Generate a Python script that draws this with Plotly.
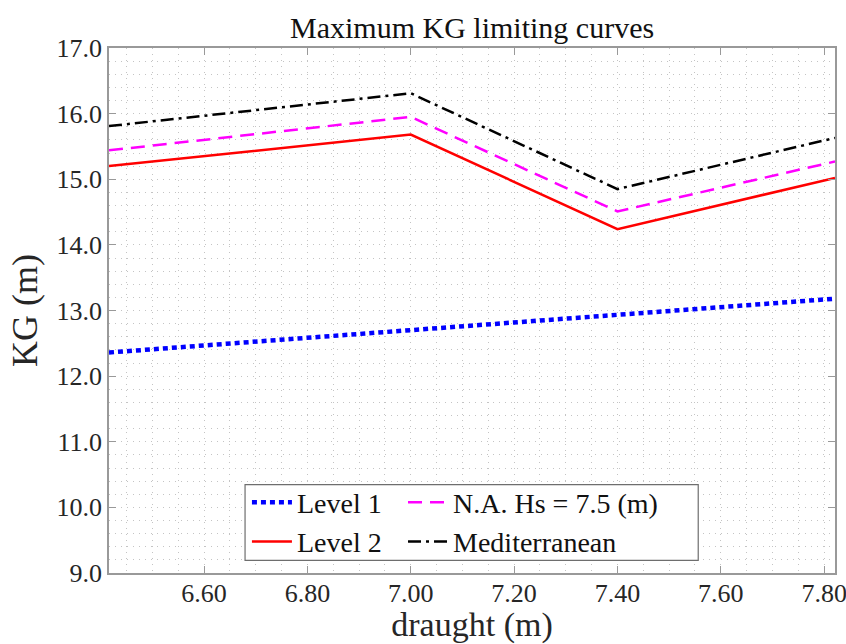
import plotly.graph_objects as go

draught = [6.416, 7.00, 7.40, 7.821]
level1 = [12.36, 12.70, 12.93, 13.18]
level2 = [15.20, 15.68, 14.24, 15.02]
na_hs75 = [15.44, 15.95, 14.51, 15.27]
mediterranean = [15.81, 16.31, 14.85, 15.63]

x_ticks = [6.6, 6.8, 7.0, 7.2, 7.4, 7.6, 7.8]
y_ticks = [9, 10, 11, 12, 13, 14, 15, 16, 17]

FONT = "Liberation Serif"

fig = go.Figure()
fig.add_trace(go.Scatter(x=draught, y=level1, mode="lines", name="Level 1",
                         line=dict(color="#0000ff", width=4.5, dash="5px,4px"), legend="legend"))
fig.add_trace(go.Scatter(x=draught, y=level2, mode="lines", name="Level 2",
                         line=dict(color="#ff0000", width=2.5), legend="legend"))
fig.add_trace(go.Scatter(x=draught, y=na_hs75, mode="lines", name="N.A. Hs = 7.5 (m)",
                         line=dict(color="#ff00ff", width=2.5, dash="14px,8px"), legend="legend2"))
fig.add_trace(go.Scatter(x=draught, y=mediterranean, mode="lines", name="Mediterranean",
                         line=dict(color="#000000", width=2.5, dash="13px,5px,3px,5px"), legend="legend2"))

grid = "#c4c4c4"
axis_common = dict(
    showline=True, linecolor="#999999", linewidth=1.6, mirror="ticks",
    ticks="inside", ticklen=7, tickcolor="#999999", tickwidth=1.2,
    showgrid=True, gridcolor=grid, griddash="1px,5px", gridwidth=1,
    zeroline=False, automargin=False, ticklabeloverflow="allow",
    tickfont=dict(family=FONT, size=26, color="#262626"),
)

fig.update_xaxes(range=[6.416, 7.821], tickvals=x_ticks, tickformat=".2f",
                 ticklabelstandoff=-4,
                 minor=dict(dtick=0.05, tick0=6.6, showgrid=True, gridcolor=grid,
                            griddash="1px,5px", ticks=""),
                 title=dict(text="draught (m)", font=dict(family=FONT, size=34, color="#262626"), standoff=6),
                 **axis_common)
fig.update_yaxes(range=[9, 17], tickvals=y_ticks, tickformat=".1f",
                 minor=dict(dtick=0.2, tick0=9, showgrid=True, gridcolor=grid,
                            griddash="1px,5px", ticks=""),
                 title=dict(text="KG (m)", font=dict(family=FONT, size=36, color="#262626"), standoff=8),
                 **axis_common)

x0, x1, y0, y1 = 0.1874, 0.8116, 0.0242, 0.1684
fig.add_shape(type="rect", xref="paper", yref="paper", x0=x0, x1=x1, y0=y0, y1=y1,
              fillcolor="white", line=dict(color="#6e6e6e", width=1.2), layer="above")

legend_common = dict(bgcolor="rgba(0,0,0,0)", borderwidth=0, yanchor="top", xanchor="left",
                     font=dict(family=FONT, size=28, color="#111"), tracegroupgap=0,
                     itemwidth=40)
fig.update_layout(
    width=846, height=644,
    margin=dict(l=109, r=11, t=48, b=71),
    plot_bgcolor="white", paper_bgcolor="white",
    title=dict(text="Maximum KG limiting curves", x=0.558, xanchor="center",
               yref="container", y=0.957, yanchor="middle",
               font=dict(family=FONT, size=30, color="#111")),
    legend=dict(x=0.190, y=0.182, **legend_common),
    legend2=dict(x=0.405, y=0.182, **legend_common),
)

fig.write_html("out.html", config={"displayModeBar": False},
               post_script="document.body.style.margin='0';document.body.style.overflow='hidden';")
